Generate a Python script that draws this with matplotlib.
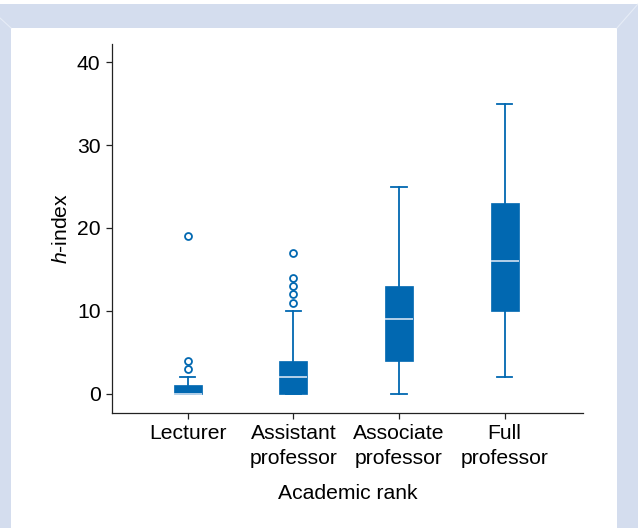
import matplotlib
matplotlib.use("Agg")
import matplotlib.pyplot as plt
from matplotlib.patches import Rectangle
from matplotlib.lines import Line2D

plt.rcParams['font.family'] = ['Liberation Sans', 'DejaVu Sans']
plt.rcParams['mathtext.fontset'] = 'custom'
plt.rcParams['mathtext.rm'] = 'Liberation Sans'
plt.rcParams['mathtext.it'] = 'Liberation Sans:italic'

# h-index summary per academic rank
ranks = ['Lecturer', 'Assistant\nprofessor', 'Associate\nprofessor', 'Full\nprofessor']
q1 = [0, 0, 4, 10]
medians = [0, 2, 9, 16]
q3 = [1, 4, 13, 23]
whisk_lo = [0, 0, 0, 2]
whisk_hi = [2, 10, 25, 35]
outliers = [[3, 4, 19], [11, 12, 13, 14, 17], [], []]

blue = '#0168b1'
fs = 15.2

fig = plt.figure(figsize=(6.38, 5.28), dpi=100)
fig.patch.set_facecolor('white')

# light frame around the panel
W, H = 638, 528
frame = '#d4ddee'
for x0, y0, w, h in [(0, 4, W, 24), (0, 4, 11, H), (617, 4, 21, H)]:
    fig.patches.append(Rectangle((x0 / W, 1 - (y0 + h) / H), w / W, h / H,
                                 transform=fig.transFigure, facecolor=frame,
                                 edgecolor='none', zorder=0))
fig.lines.append(Line2D([0, 11 / W], [1 - 18 / H, 1 - 28 / H], transform=fig.transFigure,
                        color='#e6ecf6', lw=0.8))
fig.lines.append(Line2D([617 / W, 1], [1 - 28 / H, 1 - 4 / H], transform=fig.transFigure,
                        color='#e6ecf6', lw=0.8))

ax = fig.add_axes([0.1751, 0.2174, 0.9135 - 0.1751, 0.9167 - 0.2174])
ax.set_facecolor('none')

stats = []
for i, name in enumerate(ranks):
    stats.append(dict(label=name, q1=q1[i], med=medians[i], q3=q3[i],
                      whislo=whisk_lo[i], whishi=whisk_hi[i], fliers=outliers[i]))

ax.bxp(stats, positions=[1, 2, 3, 4], widths=0.265, capwidths=0.145,
       patch_artist=True, showfliers=True,
       boxprops=dict(facecolor=blue, edgecolor=blue, linewidth=0.5),
       medianprops=dict(color='#d2e2f3', linewidth=1.2),
       whiskerprops=dict(color=blue, linewidth=1.3),
       capprops=dict(color=blue, linewidth=1.3),
       flierprops=dict(marker='o', markersize=5, markerfacecolor='white',
                       markeredgecolor=blue, markeredgewidth=1.3, linestyle='none'))

ax.set_xlim(0.28, 4.74)
ax.set_ylim(-2.35, 42.2)
ax.set_yticks([0, 10, 20, 30, 40])
ax.set_xticks([1, 2, 3, 4])
ax.set_xticklabels(ranks, linespacing=1.4)

for side in ['top', 'right']:
    ax.spines[side].set_visible(False)
for side in ['left', 'bottom']:
    ax.spines[side].set_linewidth(0.9)
    ax.spines[side].set_color('#222222')

ax.tick_params(axis='both', direction='out', length=4, width=0.9, color='#222222',
               labelsize=fs, pad=4)

ax.set_xlabel('Academic rank', fontsize=fs, labelpad=11)
ax.set_ylabel(r'$h$-index', fontsize=fs, labelpad=4)

fig.savefig('out.png', dpi=100, facecolor=fig.get_facecolor())
